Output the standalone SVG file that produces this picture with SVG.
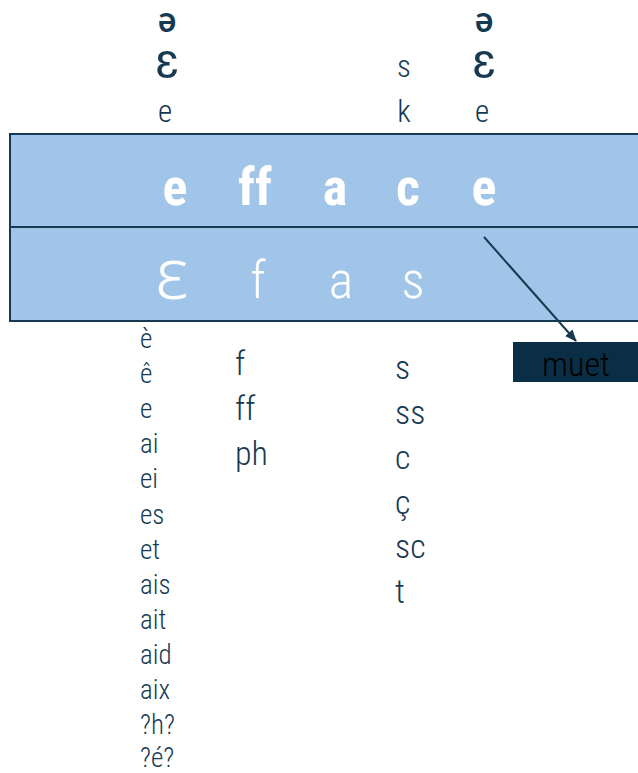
<svg xmlns="http://www.w3.org/2000/svg" width="638" height="773" viewBox="0 0 638 773">
<style>
.t{font-family:"Roboto Condensed",Roboto,"Liberation Sans",sans-serif;fill:#163a52;font-weight:300}
.s{font-size:27px}
.m{font-size:31px}
.L{font-size:34px}
.ep{font-family:Roboto,"Liberation Sans",sans-serif;font-size:50px;font-weight:400}
.sw{font-family:Roboto,"Liberation Sans",sans-serif;font-size:35px;font-weight:500}
.big{font-family:"Roboto Condensed",Roboto,"Liberation Sans",sans-serif;fill:#fff;font-size:52px;text-anchor:middle}
.b{font-weight:700}
.l{font-weight:300}
.c{text-anchor:middle}
</style>
<defs>
<marker id="ah" markerWidth="12" markerHeight="12" refX="11" refY="6" orient="auto" markerUnits="userSpaceOnUse">
<path d="M0,1 L12,6 L0,11 Z" fill="#163a52"/>
</marker>
</defs>
<g id="word">
<rect x="10" y="134" width="640" height="93" fill="#a0c5e8" stroke="#163a52" stroke-width="2"/>
<rect x="10" y="227" width="640" height="94" fill="#a0c5e8" stroke="#163a52" stroke-width="2"/>
<text class="big b" x="175" y="205">e</text>
<text class="big b" x="255" y="205">ff</text>
<text class="big b" x="335" y="205">a</text>
<text class="big b" x="408" y="205">c</text>
<text class="big b" x="484" y="205">e</text>
<text class="big" x="172" y="299" style="font-family:'Open Sans','Noto Sans',sans-serif;font-size:72px;font-weight:300">ɛ</text>
<text class="big l" x="258" y="298">f</text>
<text class="big l" x="341" y="298">a</text>
<text class="big l" x="413" y="298">s</text>
</g>
<g id="top-e1">
<text class="t sw c" x="167" y="32">ə</text>
<text class="t ep c" x="167" y="78">ɛ</text>
<text class="t m c" x="165" y="122">e</text>
</g>
<g id="top-c">
<text class="t m c" x="404" y="77">s</text>
<text class="t m c" x="404" y="122">k</text>
</g>
<g id="top-e2">
<text class="t sw c" x="484" y="32">ə</text>
<text class="t ep c" x="484" y="78">ɛ</text>
<text class="t m c" x="482" y="122">e</text>
</g>
<g id="bottom-e">
<text class="t s" x="140" y="348">è</text>
<text class="t s" x="140" y="383">ê</text>
<text class="t s" x="140" y="418">e</text>
<text class="t s" x="140" y="453">ai</text>
<text class="t s" x="140" y="488">ei</text>
<text class="t s" x="140" y="524">es</text>
<text class="t s" x="140" y="559">et</text>
<text class="t s" x="140" y="594">ais</text>
<text class="t s" x="140" y="629">ait</text>
<text class="t s" x="140" y="664">aid</text>
<text class="t s" x="140" y="699">aix</text>
<text class="t s" x="140" y="734">?h?</text>
<text class="t s" x="140" y="767">?é?</text>
</g>
<g id="bottom-f">
<text class="t L" x="235" y="375">f</text>
<text class="t L" x="235" y="420">ff</text>
<text class="t L" x="235" y="465">ph</text>
</g>
<g id="bottom-s">
<text class="t L" x="395" y="379">s</text>
<text class="t L" x="395" y="424">ss</text>
<text class="t L" x="395" y="469">c</text>
<text class="t L" x="395" y="514">ç</text>
<text class="t L" x="395" y="558">sc</text>
<text class="t L" x="395" y="603">t</text>
</g>
<g id="muet">
<rect x="513" y="342" width="130" height="40" fill="#0a2e45"/>
<text x="576" y="376" text-anchor="middle" style="font-family:'Roboto Condensed',Roboto,'Liberation Sans',sans-serif;font-size:34px;font-weight:300;fill:#000">muet</text>
</g>
<g id="connectors">
<line x1="484" y1="237" x2="576" y2="341" stroke="#163a52" stroke-width="2" marker-end="url(#ah)"/>
</g>
</svg>
